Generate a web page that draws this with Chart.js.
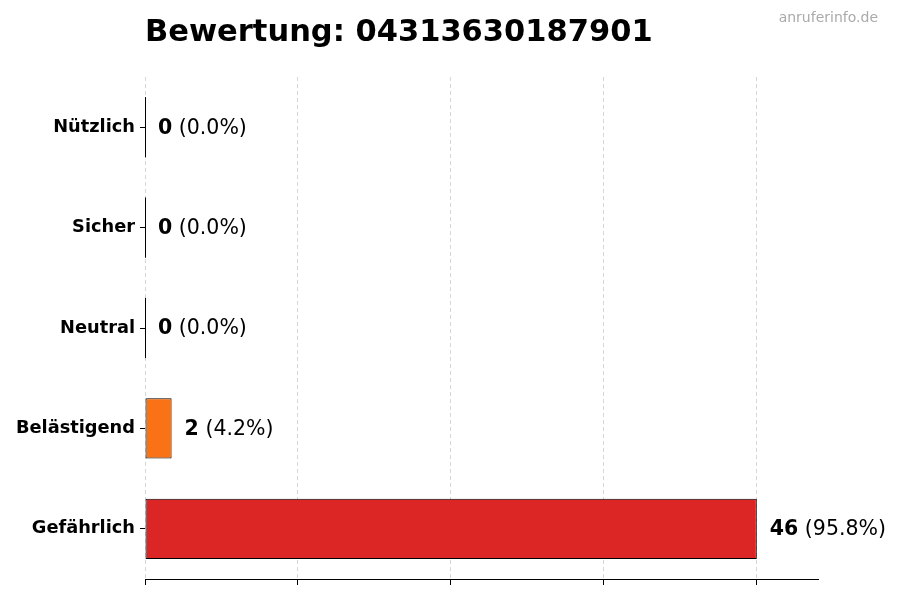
<!DOCTYPE html>
<html>
<head>
<meta charset="utf-8">
<script src="https://cdn.jsdelivr.net/npm/chart.js@4"></script>
<style>
html,body{margin:0;padding:0;background:#fff;}
#wrap{width:900px;height:600px;position:relative;}
</style>
</head>
<body>
<div id="wrap"><canvas id="c" width="900" height="600"></canvas></div>
<script>
const categories = ["Nützlich", "Sicher", "Neutral", "Belästigend", "Gefährlich"];
const values = [0, 0, 0, 2, 46];
const barColors = ["#16a34a", "#2563eb", "#6b7280", "#f97316", "#dc2626"];
const xTicks = [0, 11.5, 23, 34.5, 46];
const xMax = 50.6;
const titleText = "Bewertung: 04313630187901";
const watermark = "anruferinfo.de";

const total = values.reduce((a, b) => a + b, 0);
const FONT = "'DejaVu Sans', sans-serif";

const overlay = {
  id: 'overlay',
  afterDatasetsDraw(chart) {
    const ctx = chart.ctx;
    const meta = chart.getDatasetMeta(0);
    const xs = chart.scales.x;
    ctx.save();
    meta.data.forEach((el, i) => {
      const v = values[i];
      const props = el.getProps(['x', 'y', 'height'], true);
      if (v === 0) {
        const x0 = Math.round(xs.getPixelForValue(0)) + 0.5;
        ctx.strokeStyle = '#000';
        ctx.lineWidth = 1;
        ctx.beginPath();
        ctx.moveTo(x0, props.y - props.height / 2);
        ctx.lineTo(x0, props.y + props.height / 2);
        ctx.stroke();
      }
      const pct = total ? (v / total * 100).toFixed(1) : '0.0';
      let x = props.x + 13;
      const y = props.y + 1;
      ctx.textBaseline = 'middle';
      ctx.textAlign = 'left';
      ctx.fillStyle = '#000';
      ctx.font = "bold 20.5px " + FONT;
      const s1 = String(v);
      ctx.fillText(s1, x, y);
      x += ctx.measureText(s1).width;
      ctx.font = "20.5px " + FONT;
      ctx.fillText(" (" + pct + "%)", x, y);
    });
    ctx.restore();
  },
  afterDraw(chart) {
    const ctx = chart.ctx;
    ctx.save();
    ctx.fillStyle = '#000';
    ctx.font = "bold 30.5px " + FONT;
    ctx.textAlign = 'left';
    ctx.textBaseline = 'alphabetic';
    ctx.fillText(titleText, chart.chartArea.left, 41);
    ctx.fillStyle = '#aaaaaa';
    ctx.font = "14px " + FONT;
    ctx.textAlign = 'right';
    ctx.fillText(watermark, 878, 22);
    ctx.restore();
  }
};

new Chart(document.getElementById('c'), {
  type: 'bar',
  data: {
    labels: categories,
    datasets: [{
      data: values,
      backgroundColor: barColors,
      borderColor: '#000',
      borderWidth: 1,
      borderSkipped: false,
      barPercentage: 0.6,
      categoryPercentage: 1.0
    }]
  },
  options: {
    indexAxis: 'y',
    responsive: false,
    animation: false,
    devicePixelRatio: 1,
    layout: { padding: { top: 77, right: 82, bottom: 0, left: 0 } },
    plugins: { legend: { display: false }, tooltip: { enabled: false }, title: { display: false } },
    scales: {
      x: {
        min: 0,
        max: xMax,
        afterBuildTicks(scale) { scale.ticks = xTicks.map(v => ({ value: v })); },
        afterFit(scale) { scale.height = 21; },
        ticks: { display: false },
        grid: {
          color: 'rgba(0,0,0,0.16)',
          tickBorderDash: [],
          tickColor: '#000',
          tickLength: 6,
          drawTicks: true
        },
        border: { display: true, color: '#000', width: 1, dash: [4, 3] }
      },
      y: {
        afterFit(scale) { scale.width = 145; },
        ticks: {
          color: '#000',
          padding: 5,
          font: { family: FONT, size: 17.8, weight: 'bold' }
        },
        grid: { offset: false, drawOnChartArea: false, tickColor: '#000', tickLength: 5, drawTicks: true },
        border: { display: false }
      }
    }
  },
  plugins: [overlay]
});
</script>
</body>
</html>
